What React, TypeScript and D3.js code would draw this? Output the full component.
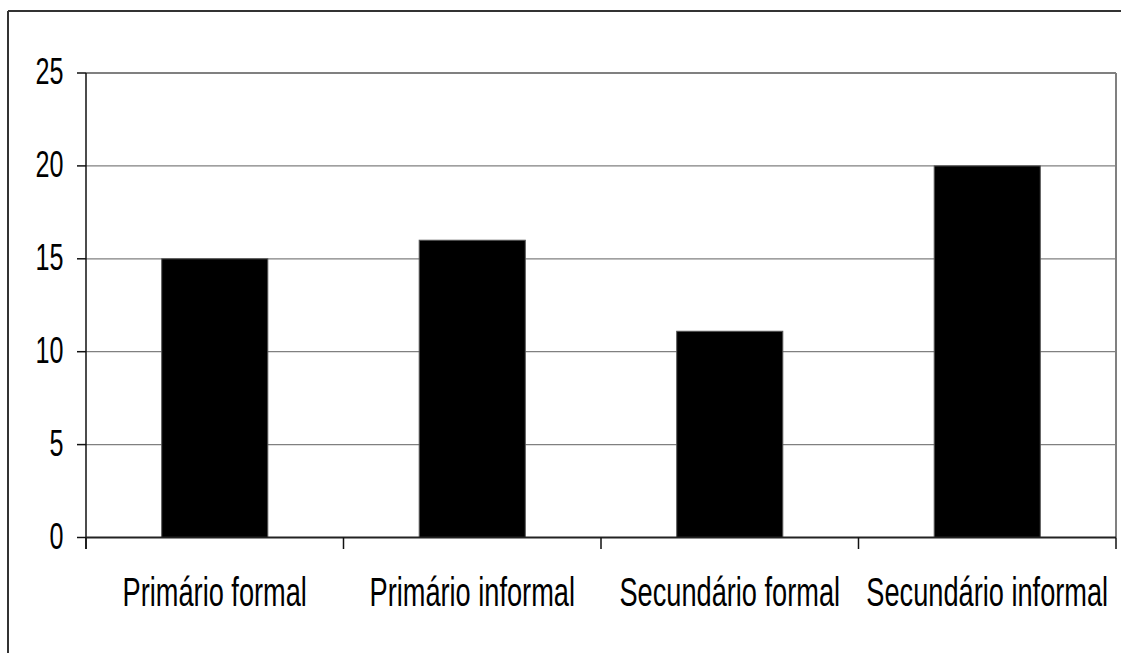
import React from "react";
import * as d3 from "d3";

const categories = ["Primário formal", "Primário informal", "Secundário formal", "Secundário informal"];
const values = [15, 16, 11.1, 20];
const yTicks = [0, 5, 10, 15, 20, 25];

const W = 1121;
const H = 653;
const plot = { left: 86, right: 1116, top: 73, bottom: 537.5 };
const FONT = "'Liberation Sans', Arial, sans-serif";
const SQUEEZE = 0.68;

export default function App() {
  const x = d3.scaleBand<string>().domain(categories).range([plot.left, plot.right]).padding(0);
  const y = d3.scaleLinear().domain([0, 25]).range([plot.bottom, plot.top]);
  const barW = x.bandwidth() * 0.412;
  const step = x.step();
  const boundaries = d3.range(categories.length + 1).map((i) => plot.left + i * step);

  return (
    <div style={{ position: "absolute", left: 0, top: 0 }}>
      <svg width={W} height={H} style={{ display: "block", background: "#fff" }}>
        {/* outer chart frame */}
        <line x1={8} y1={11} x2={8} y2={H + 5} stroke="#333" strokeWidth={2} />
        <line x1={8} y1={11} x2={W + 5} y2={11} stroke="#333" strokeWidth={2} />

        {/* gridlines */}
        {yTicks.filter((t) => t > 0 && t < 25).map((t) => (
          <line key={t} x1={plot.left} x2={plot.right} y1={y(t)} y2={y(t)} stroke="#808080" strokeWidth={1.2} />
        ))}
        {/* plot area border (top & right) */}
        <line x1={plot.left} x2={plot.right} y1={y(25)} y2={y(25)} stroke="#808080" strokeWidth={2} />
        <line x1={plot.right} x2={plot.right} y1={y(25)} y2={plot.bottom} stroke="#808080" strokeWidth={2} />

        {/* bars */}
        {categories.map((c, i) => (
          <rect
            key={c}
            x={(x(c) as number) + (step - barW) / 2}
            y={y(values[i])}
            width={barW}
            height={plot.bottom - y(values[i])}
            fill="#000"
            stroke="#555"
            strokeWidth={1}
          />
        ))}

        {/* y axis */}
        <line x1={plot.left} x2={plot.left} y1={y(25)} y2={plot.bottom + 11.5} stroke="#111" strokeWidth={1.5} />
        {yTicks.map((t) => (
          <g key={t}>
            <line x1={plot.left - 9} x2={plot.left} y1={y(t)} y2={y(t)} stroke="#111" strokeWidth={1.5} />
            <text
              transform={`translate(63.5,${y(t) + 11}) scale(${SQUEEZE},1)`}
              textAnchor="end"
              fontFamily={FONT}
              fontSize={37}
              fill="#000"
            >
              {t}
            </text>
          </g>
        ))}

        {/* x axis */}
        <line x1={plot.left} x2={plot.right} y1={plot.bottom} y2={plot.bottom} stroke="#222" strokeWidth={2} />
        {boundaries.map((bx, i) => (
          <line key={i} x1={bx} x2={bx} y1={plot.bottom} y2={plot.bottom + 11.5} stroke="#111" strokeWidth={1.5} />
        ))}
        {categories.map((c) => (
          <text
            key={c}
            transform={`translate(${(x(c) as number) + step / 2},605.5) scale(${SQUEEZE},1)`}
            textAnchor="middle"
            fontFamily={FONT}
            fontSize={40}
            fill="#000"
          >
            {c}
          </text>
        ))}
      </svg>
    </div>
  );
}
